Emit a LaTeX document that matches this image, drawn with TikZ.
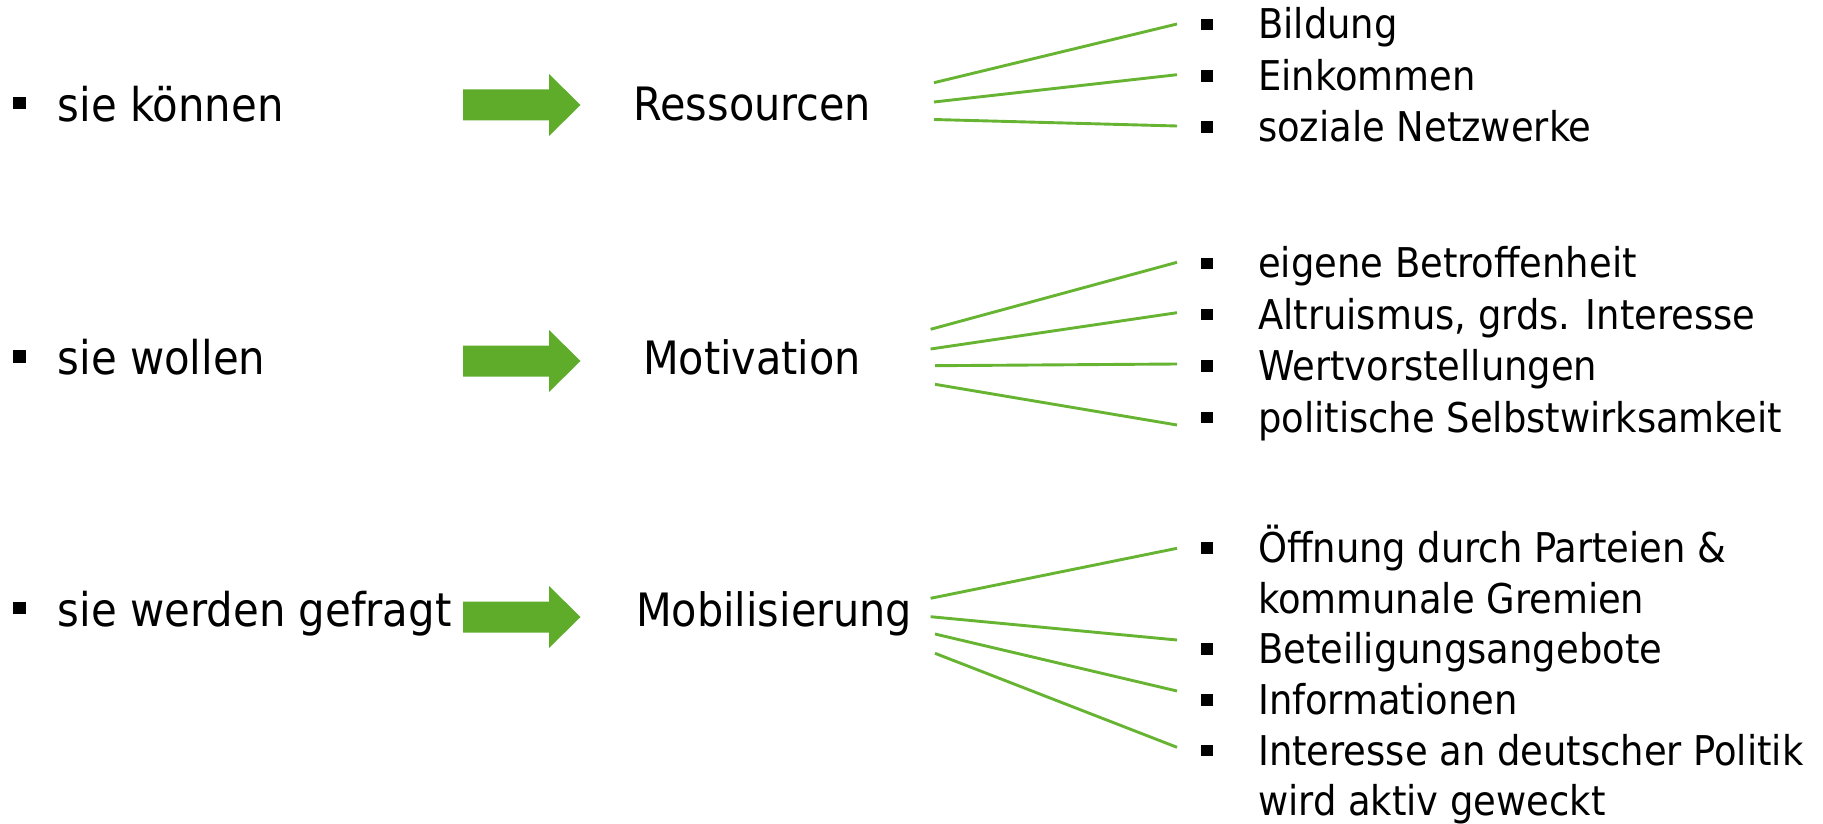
\documentclass[tikz,border=0pt]{standalone}
\usepackage{fontspec}
\setmainfont{DejaVu Sans Condensed}
\definecolor{arrowgreen}{RGB}{94,172,42}
\definecolor{linegreen}{RGB}{102,180,50}
\tikzset{
  blockarrow/.pic={\fill[arrowgreen] (0,-15.5) -- (86,-15.5) -- (86,-31) -- (117.5,0) -- (86,31) -- (86,15.5) -- (0,15.5) -- cycle;},
  big/.style={font=\fontsize{46.5}{55}\selectfont, inner sep=0pt, anchor=base west},
  mid/.style={font=\fontsize{46}{55}\selectfont, inner sep=0pt, anchor=base west},
  item/.style={font=\fontsize{41}{50}\selectfont, inner sep=0pt, anchor=base west},
  lbul/.style={fill=black, minimum size=12.8pt, inner sep=0pt},
  sbul/.style={fill=black, minimum width=12pt, minimum height=11.5pt, inner sep=0pt},
  link/.style={draw=linegreen, line width=2.9pt}
}
\begin{document}
\begin{tikzpicture}[x=1pt,y=-1pt]
\useasboundingbox (0,0) rectangle (1823,824);

% left column
\node[lbul] (lb1) at (19.8,103) {};
\node[big] (l1) at (57.4,121.7) {sie können};
\node[lbul] (lb2) at (19.8,356.3) {};
\node[big] (l2) at (57.4,374) {sie wollen};
\node[lbul] (lb3) at (19.8,608) {};
\node[big] (l3) at (57.6,626.7) {sie werden gefragt};

% block arrows
\pic at (463,105) {blockarrow};
\pic at (463,361) {blockarrow};
\pic at (463,617) {blockarrow};

% middle column
\node[mid] (m1) at (633.5,121) {Ressourcen};
\node[mid] (m2) at (643,374) {Motivation};
\node[mid] (m3) at (636,626.7) {Mobilisierung};

% right column, row 1
\node[sbul] (b11) at (1207,24.5) {};
\node[item] (i11) at (1258,38.5) {Bildung};
\node[sbul] (b12) at (1207,75.8) {};
\node[item] (i12) at (1258,90.3) {Einkommen};
\node[sbul] (b13) at (1207,127) {};
\node[item] (i13) at (1258,141.5) {soziale Netzwerke};

% right column, row 2
\node[sbul] (b21) at (1207,263.5) {};
\node[item] (i21) at (1258,277.5) {eigene Betroffenheit};
\node[sbul] (b22) at (1207,314.5) {};
\node[item] (i22) at (1258,329) {Altruismus, grds. Interesse};
\node[sbul] (b23) at (1207,366) {};
\node[item] (i23) at (1258,380.5) {Wertvorstellungen};
\node[sbul] (b24) at (1207,417.5) {};
\node[item] (i24) at (1258,432) {politische Selbstwirksamkeit};

% right column, row 3
\node[sbul] (b31) at (1207,548) {};
\node[item] (i31) at (1258,562.5) {Öffnung durch Parteien \&};
\node[item] (i31b) at (1258,613) {kommunale Gremien};
\node[sbul] (b32) at (1207,649) {};
\node[item] (i32) at (1258,663.5) {Beteiligungsangebote};
\node[sbul] (b33) at (1207,700) {};
\node[item] (i33) at (1258,714.5) {Informationen};
\node[sbul] (b34) at (1207,750.5) {};
\node[item] (i34) at (1258,765) {Interesse an deutscher Politik};
\node[item] (i34b) at (1258,815.5) {wird aktiv geweckt};

% connector end points
\coordinate (s11) at (934,82.7);  \coordinate (e11) at (1177,24);
\coordinate (s12) at (934,102);   \coordinate (e12) at (1177,74.7);
\coordinate (s13) at (934,119.5); \coordinate (e13) at (1177,126);
\coordinate (s21) at (930.6,329.3); \coordinate (e21) at (1177,262.3);
\coordinate (s22) at (930.6,349);   \coordinate (e22) at (1177,312.7);
\coordinate (s23) at (935,365.7);   \coordinate (e23) at (1177,364);
\coordinate (s24) at (935,384.3);   \coordinate (e24) at (1177,425);
\coordinate (s31) at (930.6,598.3); \coordinate (e31) at (1177,548.3);
\coordinate (s32) at (930.6,616.7); \coordinate (e32) at (1177,640);
\coordinate (s33) at (935,634);     \coordinate (e33) at (1177,691);
\coordinate (s34) at (935,653.3);   \coordinate (e34) at (1177,747.3);

\foreach \a in {11,12,13,21,22,23,24,31,32,33,34}
  \draw[link] (s\a) -- (e\a);
\end{tikzpicture}
\end{document}
